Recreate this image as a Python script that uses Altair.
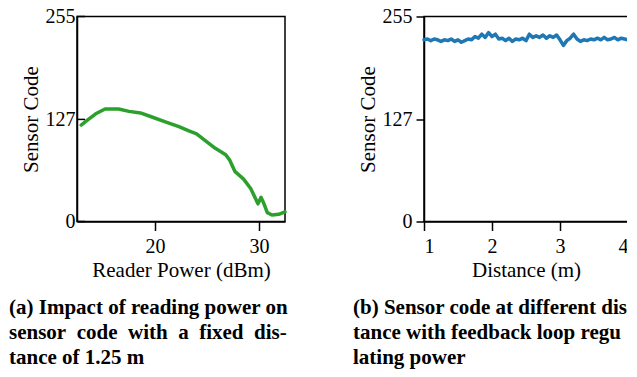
import altair as alt
import pandas as pd

# ---- data ----
power_dbm = [12.9, 13.5, 14.3, 15.2, 16.5, 17.5, 18.6, 19.7, 21.0, 22.3, 23.2, 24.0,
             24.8, 25.8, 26.8, 27.2, 27.7, 28.5, 29.2, 29.65, 29.9, 30.2, 30.45, 30.8,
             31.25, 31.9, 32.5]
code_a = [120, 126, 134, 140, 140, 137, 135, 130, 124, 118, 113, 109,
          101, 91, 83, 76, 62, 53, 41, 29, 22, 30, 23, 11,
          8, 9, 12]

distance_m = [1.00, 1.05, 1.10, 1.15, 1.20, 1.25, 1.30, 1.35, 1.40, 1.45, 1.50, 1.55,
              1.60, 1.65, 1.70, 1.75, 1.80, 1.85, 1.90, 1.95, 2.00, 2.05, 2.10, 2.15,
              2.20, 2.25, 2.30, 2.35, 2.40, 2.45, 2.50, 2.55, 2.60, 2.65, 2.70, 2.75,
              2.80, 2.85, 2.90, 2.95, 3.00, 3.05, 3.10, 3.15, 3.20, 3.25, 3.30, 3.35,
              3.40, 3.45, 3.50, 3.55, 3.60, 3.65, 3.70, 3.75, 3.80, 3.85, 3.90, 3.95, 4.00]
code_b = [226, 227, 225, 227, 226, 224, 226, 225, 227, 224, 226, 223,
          225, 227, 226, 230, 228, 233, 229, 235, 230, 233, 227, 228,
          225, 228, 224, 227, 226, 228, 225, 233, 229, 231, 229, 232,
          228, 231, 229, 232, 226, 219, 225, 228, 233, 227, 224, 226,
          225, 227, 226, 228, 226, 229, 226, 227, 229, 226, 228, 227, 226]

y_ticks = [0, 127, 255]
x_ticks_a = [20, 30]
x_ticks_b = [1, 2, 3, 4]

NB = "\u00a0"
caption_a = ["(a) Impact of reading power on",
             f"sensor{NB} code{NB} with{NB} a{NB} fixed{NB} dis-",
             "tance of 1.25 m"]
caption_b = ["(b) Sensor code at different dis",
             "tance with feedback loop regu",
             "lating power"]

W_A, W_B, H = 208, 204, 205
AX_FONT = "Liberation Serif"
CAP_FONT = "Liberation Serif"
LABEL_SIZE = 20
TITLE_SIZE = 21
CAP_SIZE = 21

df_a = pd.DataFrame({"p": power_dbm, "c": code_a})
df_b = pd.DataFrame({"d": distance_m, "c": code_b})
df_t = pd.DataFrame({"v": y_ticks})

yscale = alt.Scale(domain=[0, 255], nice=False, zero=False)

line_a = alt.Chart(df_a).mark_line(color="#2ca02c", strokeWidth=3.5,
                                   strokeJoin="round", strokeCap="round").encode(
    x=alt.X("p:Q", scale=alt.Scale(domain=[12.5, 32.5], nice=False, zero=False),
            axis=alt.Axis(values=x_ticks_a, title="Reader Power (dBm)", tickSize=9,
                          labelPadding=6, titlePadding=3)),
    y=alt.Y("c:Q", scale=yscale,
            axis=alt.Axis(values=y_ticks, title="Sensor Code", ticks=False, tickSize=0,
                          labelPadding=2, titlePadding=4)),
)
inner_ticks = alt.Chart(df_t).mark_rule(color="black", strokeWidth=1.5).encode(
    y=alt.Y("v:Q", scale=yscale),
    x=alt.value(0), x2=alt.value(8),
)
cap_a = alt.Chart(df_t).transform_filter("datum.v == 0").mark_text(
    align="left", baseline="alphabetic", font=CAP_FONT, fontSize=CAP_SIZE,
    fontWeight="bold", lineHeight=25, color="black").encode(
    x=alt.value(-68), y=alt.value(297.5), text=alt.value(caption_a))

left = alt.layer(line_a, inner_ticks, cap_a).properties(width=W_A, height=H)

line_b = alt.Chart(df_b).mark_line(color="#1f77b4", strokeWidth=3.5,
                                   strokeJoin="round", strokeCap="round").encode(
    x=alt.X("d:Q", scale=alt.Scale(domain=[1, 4], nice=False, zero=False),
            axis=alt.Axis(values=x_ticks_b, title="Distance (m)", tickSize=9,
                          labelPadding=6, titlePadding=3)),
    y=alt.Y("c:Q", scale=yscale,
            axis=alt.Axis(values=y_ticks, title="Sensor Code", tickSize=8,
                          labelPadding=4, titlePadding=4)),
)
cap_b = alt.Chart(df_t).transform_filter("datum.v == 0").mark_text(
    align="left", baseline="alphabetic", font=CAP_FONT, fontSize=CAP_SIZE,
    fontWeight="bold", lineHeight=25, color="black").encode(
    x=alt.value(-71), y=alt.value(297.5), text=alt.value(caption_b))

right = alt.layer(line_b, cap_b).properties(width=W_B, height=H)

chart = alt.hconcat(left, right, spacing=63).properties(
    padding={"left": 0, "top": -2.5, "right": -4, "bottom": 0}
).configure_view(
    stroke="black", strokeWidth=1.5
).configure_axis(
    grid=False, domainColor="black", domainWidth=1.5, tickColor="black", tickWidth=1.5,
    labelFont=AX_FONT, labelFontSize=LABEL_SIZE, labelColor="black",
    titleFont=AX_FONT, titleFontSize=TITLE_SIZE, titleFontWeight="normal", titleColor="black",
)

chart.save("out.html", embed_options={"renderer": "svg", "actions": False})
